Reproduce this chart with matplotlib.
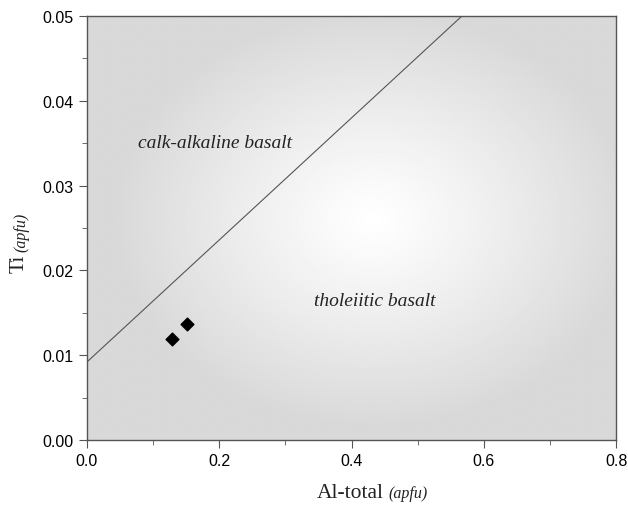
import numpy as np
import matplotlib
matplotlib.use('Agg')
import matplotlib.pyplot as plt
from matplotlib.ticker import MultipleLocator

# discrimination line (calc-alkaline / tholeiitic)
LINE_X = [0.0, 0.567]
LINE_Y = [0.0092, 0.05]

# samples
AL_TOTAL = [0.128, 0.151]
TI = [0.0119, 0.0137]

SANS = ['Liberation Sans', 'DejaVu Sans']
SERIF = ['Liberation Serif', 'DejaVu Serif']

fig = plt.figure(figsize=(6.28, 5.10), dpi=100)
ax = fig.add_axes([0.1385, 0.1353, 0.8425, 0.8314])
ax.set_xlim(0, 0.8)
ax.set_ylim(0, 0.05)

# radial grey gradient background, lighter in the middle
gx, gy = np.meshgrid(np.linspace(0, 1, 400), np.linspace(0, 1, 400))
r = np.sqrt(((gx - 0.54) / 0.75) ** 2 + ((gy - 0.52) / 0.75) ** 2)
shade = 1.0 - 0.15 * np.clip(r / 0.65, 0, 1) ** 1.1
ax.imshow(shade, cmap='gray', vmin=0, vmax=1, extent=[0, 0.8, 0, 0.05],
          origin='lower', aspect='auto', interpolation='bilinear', zorder=0)

ax.plot(LINE_X, LINE_Y, color='#555555', lw=0.8, zorder=2)
ax.scatter(AL_TOTAL, TI, marker='D', s=42, color='black', zorder=3)

ax.text(0.1936, 0.0351, 'calk-alkaline basalt', family=SERIF, style='italic',
        fontsize=14, color='#222222', ha='center', va='center')
ax.text(0.4355, 0.0164, 'tholeiitic basalt', family=SERIF, style='italic',
        fontsize=14, color='#222222', ha='center', va='center')

ax.xaxis.set_major_locator(MultipleLocator(0.2))
ax.xaxis.set_minor_locator(MultipleLocator(0.1))
ax.yaxis.set_major_locator(MultipleLocator(0.01))
ax.yaxis.set_minor_locator(MultipleLocator(0.005))
ax.xaxis.set_major_formatter(lambda v, p: f'{v:.1f}')
ax.yaxis.set_major_formatter(lambda v, p: f'{v:.2f}')
ax.tick_params(which='both', direction='out', color='#555555')
ax.tick_params(which='major', length=6, labelsize=11.5)
ax.tick_params(which='minor', length=3.5)
for lbl in ax.get_xticklabels() + ax.get_yticklabels():
    lbl.set_family(SANS)
for s in ax.spines.values():
    s.set_color('#555555')
    s.set_linewidth(1.0)

# axis titles with a smaller italic unit
fig.text(384 / 628, 1 - 498 / 510, 'Al-total', family=SERIF, fontsize=15.5,
         ha='right', va='baseline', color='#222222')
fig.text(388 / 628, 1 - 498 / 510, '(apfu)', family=SERIF, style='italic',
         fontsize=11.5, ha='left', va='baseline', color='#222222')
fig.text(29 / 628, 1 - 273 / 510, 'Ti', family=SERIF, fontsize=15.5,
         rotation=90, ha='right', va='bottom', color='#222222')
fig.text(29 / 628, 1 - 252 / 510, '(apfu)', family=SERIF, style='italic',
         fontsize=11.5, rotation=90, ha='right', va='bottom', color='#222222')

fig.savefig('out.png', dpi=100, facecolor='white')
